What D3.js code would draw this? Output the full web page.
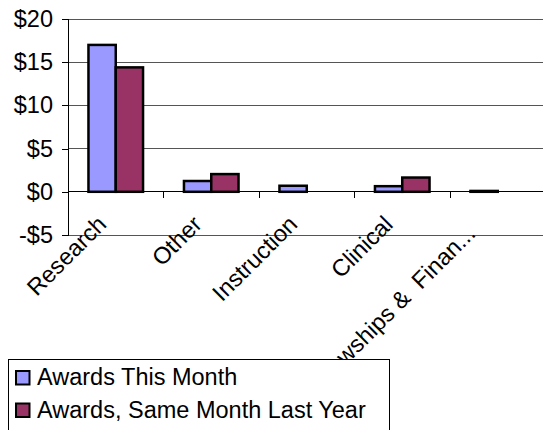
<!DOCTYPE html>
<html>
<head>
<meta charset="utf-8">
<script src="https://cdn.jsdelivr.net/npm/d3@7"></script>
<style>
  body { margin: 0; background: #fff; }
  svg { display: block; font-family: "Liberation Sans", Arial, sans-serif; }
</style>
</head>
<body>
<svg id="chart" width="543" height="430"></svg>
<script>
const categories = ["Research", "Other", "Instruction", "Clinical", "Fellowships &  Finan..."];
const seriesNames = ["Awards This Month", "Awards, Same Month Last Year"];
const awardsThisMonth = [17.0, 1.25, 0.7, 0.65, 0.1];
const awardsLastYear = [14.4, 2.05, 0, 1.65, 0];
const yTicks = [-5, 0, 5, 10, 15, 20];
const colors = ["#9999FF", "#993366"];

(function () {
const svg = d3.select("#chart");
const pLeft = 68, pRight = 545.5, pTop = 19, pBottom = 235;
const fs = 23.5;

const x = d3.scaleBand().domain(categories).range([pLeft, pRight]).paddingInner(0).paddingOuter(0);
const y = d3.scaleLinear().domain([-5, 20]).range([pBottom, pTop]);
const barW = x.bandwidth() / 3.5;
const x1 = d3.scaleBand().domain(seriesNames).range([0, barW * 2]);

// gridlines
svg.append("g").selectAll("line").data(yTicks).join("line")
  .attr("x1", pLeft).attr("x2", 543)
  .attr("y1", d => y(d)).attr("y2", d => y(d))
  .attr("stroke", d => d === 0 ? "#000" : "#555").attr("stroke-width", 1).attr("shape-rendering", "crispEdges");

// y axis
const yAxis = d3.axisLeft(y).tickValues(yTicks).tickSize(6).tickPadding(9)
  .tickFormat(d => d < 0 ? "-$" + Math.abs(d) : "$" + d);
const gy = svg.append("g").attr("transform", `translate(${pLeft},0)`).call(yAxis);
gy.select(".domain").attr("stroke", "#000").attr("shape-rendering", "crispEdges");
gy.selectAll(".tick line").attr("stroke", "#000").attr("shape-rendering", "crispEdges");
gy.selectAll("text").attr("font-size", fs).attr("fill", "#000").attr("font-family", "Liberation Sans, Arial, sans-serif");

// x category ticks on zero line
const tickPos = categories.map(c => x(c)).concat([pRight]);
svg.append("g").selectAll("line").data(tickPos.slice(1)).join("line")
  .attr("x1", d => d).attr("x2", d => d)
  .attr("y1", y(0)).attr("y2", y(0) + 6)
  .attr("stroke", "#000").attr("shape-rendering", "crispEdges");

// bars
const rows = categories.map((c, i) => ({ c, vals: [awardsThisMonth[i], awardsLastYear[i]] }));
const groups = svg.append("g").selectAll("g").data(rows).join("g")
  .attr("transform", d => `translate(${x(d.c) + (x.bandwidth() - barW * 2) / 2},0)`);
groups.selectAll("rect").data(d => d.vals.map((v, j) => ({ v, j })).filter(e => e.v > 0)).join("rect")
  .attr("x", e => x1(seriesNames[e.j]))
  .attr("width", x1.bandwidth())
  .attr("y", e => y(e.v))
  .attr("height", e => y(0) - y(e.v))
  .attr("fill", e => colors[e.j])
  .attr("stroke", "#000").attr("stroke-width", 2.5);

// category labels (rotated -45, text end near the category centre)
svg.append("g").selectAll("text").data(categories).join("text")
  .attr("transform", d => {
    const truncated = d.endsWith("...");
    const cx = x(d) + x.bandwidth() / 2 + (truncated ? -21 : -8);
    const cy = y(0) + (truncated ? 43 : 34);
    return `translate(${cx},${cy}) rotate(-45)`;
  })
  .attr("text-anchor", "end")
  .attr("font-size", fs)
  .attr("fill", "#000")
  .style("white-space", "pre")
  .text(d => d);

// legend
const lg = svg.append("g");
lg.append("rect").attr("x", 8.5).attr("y", 359.5).attr("width", 381).attr("height", 80)
  .attr("fill", "#fff").attr("stroke", "#000").attr("stroke-width", 1);
seriesNames.forEach((s, i) => {
  const base = 385 + i * 32.5;
  lg.append("rect").attr("x", 16).attr("y", base - 14).attr("width", 13.5).attr("height", 13.5)
    .attr("fill", colors[i]).attr("stroke", "#000").attr("stroke-width", 2);
  lg.append("text").attr("x", 37).attr("y", base)
    .attr("font-size", fs).attr("fill", "#000").text(s);
});
})();
</script>
</body>
</html>
